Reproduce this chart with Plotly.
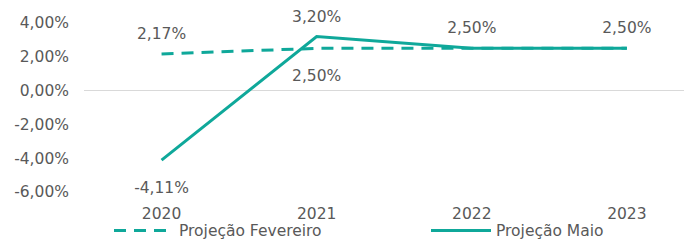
import plotly.graph_objects as go

years = ["2020", "2021", "2022", "2023"]
fevereiro = [2.17, 2.50, 2.50, 2.50]
maio = [-4.11, 3.20, 2.50, 2.50]
# label placement per point ("top", "bottom", or None where the label coincides with the other series)
fev_label_pos = ["top", "bottom", None, None]
maio_label_pos = ["bottom", "top", "top", "top"]
y_ticks = [4, 2, 0, -2, -4, -6]

COLOR = "#0FA89A"
TEXT = "#595959"
FONT = "DejaVu Sans"
FS = 15.5

def fmt(v):
    return f"{v:.2f}%".replace(".", ",")

fig = go.Figure()
fig.add_trace(go.Scatter(x=years, y=fevereiro, mode="lines", name="Projeção Fevereiro",
                         line=dict(color=COLOR, width=3, dash="12px,8px"), legend="legend"))
fig.add_trace(go.Scatter(x=years, y=maio, mode="lines", name="Projeção Maio",
                         line=dict(color=COLOR, width=3), legend="legend2"))

for where, msize in (("top", 16), ("bottom", 32)):
    xs, ys = [], []
    for series, pos in ((fevereiro, fev_label_pos), (maio, maio_label_pos)):
        for x, v, p in zip(years, series, pos):
            if p == where:
                xs.append(x)
                ys.append(v)
    fig.add_trace(go.Scatter(x=xs, y=ys, mode="markers+text", showlegend=False,
                             text=[fmt(v) for v in ys], textposition=f"{where} center",
                             marker=dict(size=msize, opacity=0),
                             textfont=dict(family=FONT, size=FS, color=TEXT),
                             hoverinfo="skip", cliponaxis=False))

legend_common = dict(orientation="h", yanchor="middle", y=-0.23, xanchor="left",
                     itemwidth=60, font=dict(family=FONT, size=FS, color=TEXT),
                     bgcolor="rgba(0,0,0,0)")

fig.update_layout(
    width=684, height=232,
    margin=dict(l=76, r=0, t=15, b=48, autoexpand=False),
    paper_bgcolor="white", plot_bgcolor="white",
    font=dict(family=FONT, size=FS, color=TEXT),
    showlegend=True,
    legend=dict(x=(101 - 76) / 608, **legend_common),
    legend2=dict(x=(418 - 76) / 608, **legend_common),
    xaxis=dict(type="category", range=[-0.5, 3.42], showgrid=False, zeroline=False,
               showline=False, ticks="", ticklabelstandoff=10, automargin=False,
               tickfont=dict(family=FONT, size=FS, color=TEXT)),
    yaxis=dict(range=[-6, 4], tickvals=y_ticks, ticktext=[fmt(v) for v in y_ticks],
               showgrid=False, zeroline=True, zerolinecolor="#D9D9D9", zerolinewidth=1,
               showline=False, ticks="", ticklabelstandoff=14, automargin=False,
               tickfont=dict(family=FONT, size=FS, color=TEXT)),
)

fig.write_html("out.html")
